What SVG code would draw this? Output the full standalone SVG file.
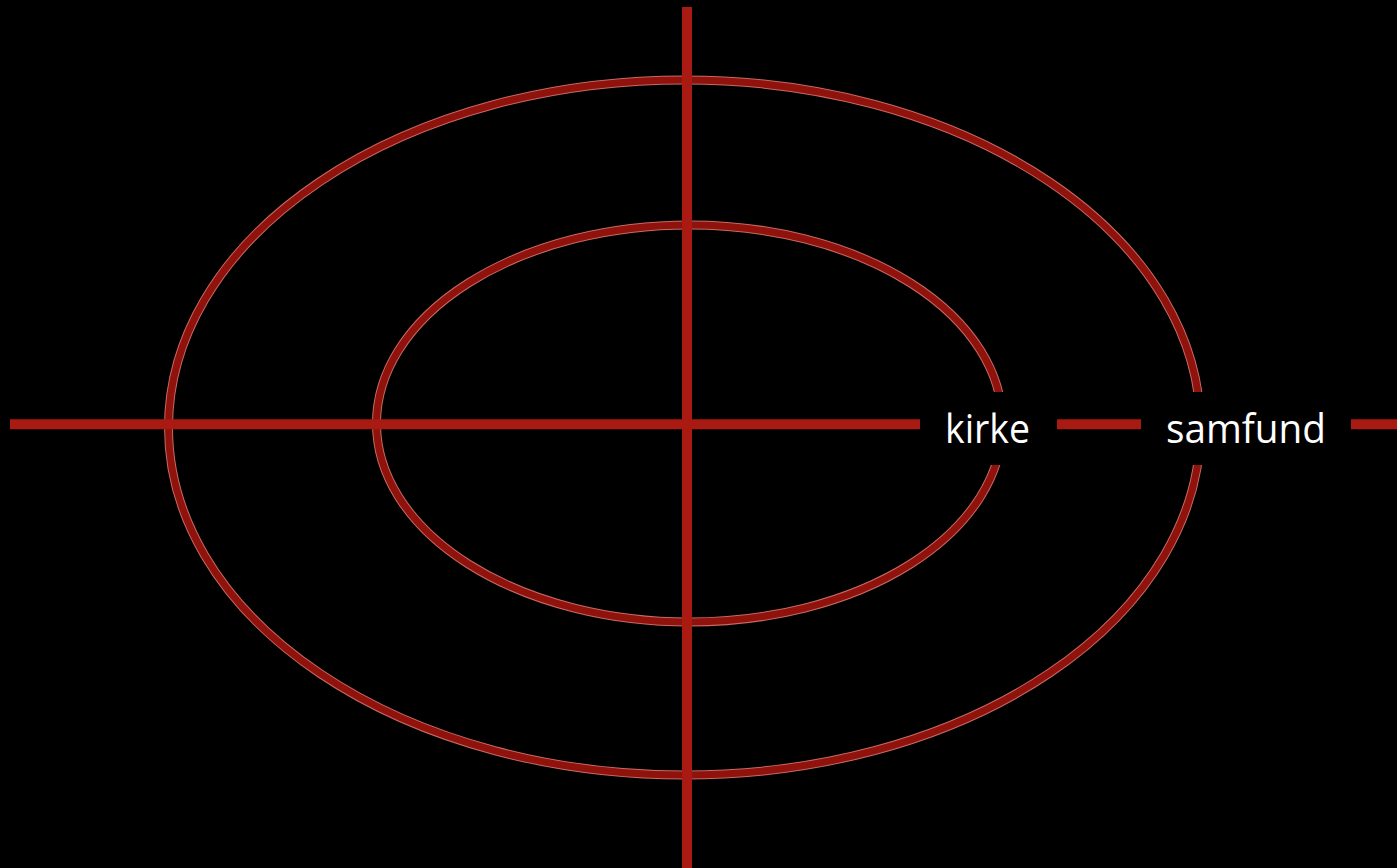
<svg xmlns="http://www.w3.org/2000/svg" width="1397" height="868" viewBox="0 0 1397 868">
  <style>
    .ring-edge { fill: none; stroke: #c76a62; stroke-width: 9; }
    .ring { fill: none; stroke: #8f120c; stroke-width: 7; }
    .axis { stroke: #a81a12; stroke-width: 10; }
    .mask { fill: #000000; }
    .label { fill: #ffffff; font-family: "Open Sans", "Liberation Sans", sans-serif; font-size: 40px; }
  </style>
  <rect x="0" y="0" width="1397" height="868" fill="#000000"/>
  <g id="outer-ring">
    <ellipse class="ring-edge" cx="684.5" cy="427.5" rx="516" ry="347.5"/>
    <ellipse class="ring" cx="684.5" cy="427.5" rx="516" ry="347.5"/>
  </g>
  <g id="inner-ring">
    <ellipse class="ring-edge" cx="689.5" cy="423.5" rx="313" ry="198.5"/>
    <ellipse class="ring" cx="689.5" cy="423.5" rx="313" ry="198.5"/>
  </g>
  <g id="connectors">
    <line class="axis" x1="687" y1="7" x2="687" y2="868"/>
    <line class="axis" x1="10" y1="424.3" x2="1397" y2="424.3"/>
  </g>
  <g id="kirke">
    <rect class="mask" x="920" y="392" width="137" height="73"/>
    <text class="label" x="945" y="443" textLength="85" lengthAdjust="spacingAndGlyphs">kirke</text>
  </g>
  <g id="samfund">
    <rect class="mask" x="1141" y="392" width="210" height="73"/>
    <text class="label" x="1166" y="443" textLength="160" lengthAdjust="spacingAndGlyphs">samfund</text>
  </g>
</svg>
